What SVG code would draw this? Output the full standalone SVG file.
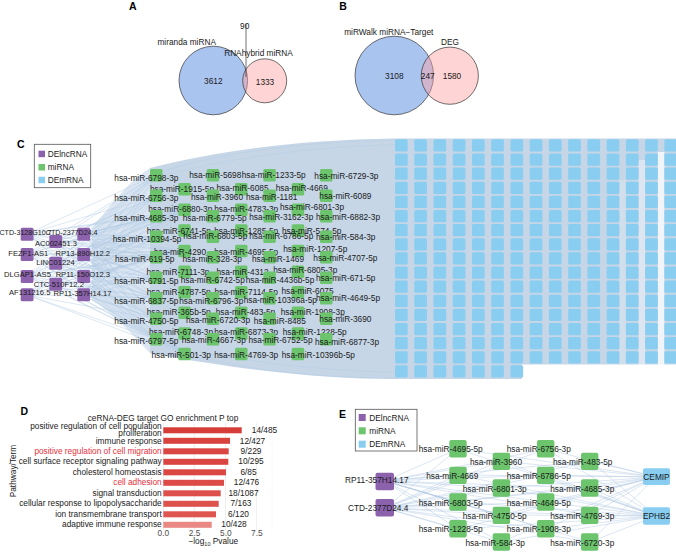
<svg xmlns="http://www.w3.org/2000/svg" xmlns:xlink="http://www.w3.org/1999/xlink" width="676" height="552" viewBox="0 0 676 552">
<style>
text{font-family:"Liberation Sans",Arial,Helvetica,sans-serif;font-size:8.3px;fill:#1a1a1a}
.lt{font-weight:bold;font-size:10.5px;fill:#000}
.ln{font-size:7.6px}
.ls{font-size:7.1px}
.m{text-anchor:middle}
.e{text-anchor:end}
.g{fill:#6cc46c}
.p{fill:#8c62ad}
.b{fill:#89cdf1}
.ed{fill:none;stroke:#b4cbe4;stroke-width:0.45}
.ee{fill:none;stroke:#a9c3e0;stroke-width:0.5;opacity:0.85}
.cb{fill:#aac4f0;stroke:#333;stroke-width:0.7}
.cp{fill:#ff9f9f;fill-opacity:0.45;stroke:#333;stroke-width:0.7}
.leg{fill:#fff;stroke:#555;stroke-width:0.8}
.gm{stroke:#e3e3e3;stroke-width:0.6}
.gn{stroke:#f0f0f0;stroke-width:0.35}
.red{fill:#e6303a}
.tk{fill:#4d4d4d}
</style>
<defs>
<g id="mrow">
<rect class="b" x="395" y="0" width="12.7" height="12.3" rx="1.5"/>
<rect class="b" x="414.24" y="0" width="12.7" height="12.3" rx="1.5"/>
<rect class="b" x="433.48" y="0" width="12.7" height="12.3" rx="1.5"/>
<rect class="b" x="452.72" y="0" width="12.7" height="12.3" rx="1.5"/>
<rect class="b" x="471.96" y="0" width="12.7" height="12.3" rx="1.5"/>
<rect class="b" x="491.2" y="0" width="12.7" height="12.3" rx="1.5"/>
<rect class="b" x="510.44" y="0" width="12.7" height="12.3" rx="1.5"/>
<rect class="b" x="529.68" y="0" width="12.7" height="12.3" rx="1.5"/>
<rect class="b" x="548.92" y="0" width="12.7" height="12.3" rx="1.5"/>
<rect class="b" x="568.16" y="0" width="12.7" height="12.3" rx="1.5"/>
<rect class="b" x="587.4" y="0" width="12.7" height="12.3" rx="1.5"/>
<rect class="b" x="606.64" y="0" width="12.7" height="12.3" rx="1.5"/>
<rect class="b" x="625.88" y="0" width="12.7" height="12.3" rx="1.5"/>
<rect class="b" x="645.12" y="0" width="12.7" height="12.3" rx="1.5"/>
<rect class="b" x="664.36" y="0" width="12.7" height="12.3" rx="1.5"/>
</g>
</defs>
<rect width="676" height="552" fill="#fff"/>

<!-- Panel A -->
<g id="panelA">
<text class="lt" x="129" y="9.5">A</text>
<circle class="cb" cx="213.3" cy="80.5" r="34.3"/>
<circle class="cp" cx="264.7" cy="80.8" r="22"/>
<line x1="246" y1="24" x2="246" y2="77" stroke="#333" stroke-width="0.7"/>
<text class="m" x="186.7" y="44.6">miranda miRNA</text>
<text class="m" x="258.5" y="56.2">RNAhybrid miRNA</text>
<text class="m" x="244.7" y="28.6">90</text>
<text class="m" x="213.3" y="84">3612</text>
<text class="m" x="265" y="84.7">1333</text>
</g>

<!-- Panel B -->
<g id="panelB">
<text class="lt" x="339.3" y="9.5">B</text>
<circle class="cb" cx="394.3" cy="75.5" r="39.3"/>
<circle class="cp" cx="449.8" cy="75.7" r="28.6"/>
<text class="m" x="388.8" y="34.6">miRWalk miRNA−Target</text>
<text class="m" x="450" y="44.6">DEG</text>
<text class="m" x="394.3" y="79">3108</text>
<text class="m" x="427.7" y="79">247</text>
<text class="m" x="452" y="79">1580</text>
</g>

<!-- Panel C -->
<text class="lt" x="17" y="148.3">C</text>
<g id="c-edges">
<path d="M150,168 C220,150 300,140 393,138.5 L676,138.5 L676,364.5 L522,364.5 L522,379 L393,379 C330,379 250,372 150,353 Z" fill="#c6d6e7"/>
<path d="M92,228 C115,200 130,180 150,168 L150,353 C130,332 112,312 92,300 Z" fill="#dbe6f2"/>
<rect x="657.9" y="152" width="6.4" height="213" fill="#fff" opacity="0.75"/>
<rect x="638.6" y="160" width="6.5" height="205" fill="#fff" opacity="0.4"/>
<rect x="619.4" y="180" width="6.4" height="185" fill="#fff" opacity="0.2"/>
<path class="ed" d="M27 234L156 175M27 234L156 196M27 234L156 216M27 234L184 210M27 234L156 237M27 234L156 257M27 234L184 251M27 234L156 278M27 234L156 298M27 234L156 319M27 234L156 339M27 234L184 354"/>
<path class="ed" d="M27 254L156 175M27 254L156 196M27 254L156 216M27 254L184 210M27 254L156 237M27 254L156 257M27 254L184 251M27 254L156 278M27 254L156 298M27 254L156 319M27 254L156 339M27 254L184 354"/>
<path class="ed" d="M27 276L156 175M27 276L156 196M27 276L156 216M27 276L184 210M27 276L156 237M27 276L156 257M27 276L184 251M27 276L156 278M27 276L156 298M27 276L156 319M27 276L156 339M27 276L184 354"/>
<path class="ed" d="M27 295L156 175M27 295L156 196M27 295L156 216M27 295L184 210M27 295L156 237M27 295L156 257M27 295L184 251M27 295L156 278M27 295L156 298M27 295L156 319M27 295L156 339M27 295L184 354"/>
<path class="ed" d="M55 241L156 175M55 241L156 196M55 241L156 216M55 241L184 210M55 241L156 237M55 241L156 257M55 241L184 251M55 241L156 278M55 241L156 298M55 241L156 319M55 241L156 339M55 241L184 354"/>
<path class="ed" d="M55 263L156 175M55 263L156 196M55 263L156 216M55 263L184 210M55 263L156 237M55 263L156 257M55 263L184 251M55 263L156 278M55 263L156 298M55 263L156 319M55 263L156 339M55 263L184 354"/>
<path class="ed" d="M55 284L156 175M55 284L156 196M55 284L156 216M55 284L184 210M55 284L156 237M55 284L156 257M55 284L184 251M55 284L156 278M55 284L156 298M55 284L156 319M55 284L156 339M55 284L184 354"/>
<path class="ed" d="M84 234L156 175M84 234L156 196M84 234L156 216M84 234L184 210M84 234L156 237M84 234L156 257M84 234L184 251M84 234L156 278M84 234L156 298M84 234L156 319M84 234L156 339M84 234L184 354"/>
<path class="ed" d="M84 254L156 175M84 254L156 196M84 254L156 216M84 254L184 210M84 254L156 237M84 254L156 257M84 254L184 251M84 254L156 278M84 254L156 298M84 254L156 319M84 254L156 339M84 254L184 354"/>
<path class="ed" d="M84 276L156 175M84 276L156 196M84 276L156 216M84 276L184 210M84 276L156 237M84 276L156 257M84 276L184 251M84 276L156 278M84 276L156 298M84 276L156 319M84 276L156 339M84 276L184 354"/>
<path class="ed" d="M84 295L156 175M84 295L156 196M84 295L156 216M84 295L184 210M84 295L156 237M84 295L156 257M84 295L184 251M84 295L156 278M84 295L156 298M84 295L156 319M84 295L156 339M84 295L184 354"/>
<path class="ed" d="M160 172C230 150 310 142 395 140M160 176C240 156 320 146 395 145M190 356C260 372 330 378 395 378M200 352C270 365 340 372 400 372"/>
</g>

<g id="c-legend">
<rect class="leg" x="34.3" y="144.3" width="56.4" height="43.4"/>
<rect class="p" x="38.5" y="150.7" width="6.5" height="6.5"/>
<text x="47.7" y="157">DElncRNA</text>
<rect class="g" x="38.5" y="164" width="6.5" height="6.5"/>
<text x="47.7" y="170.2">miRNA</text>
<rect class="b" x="38.5" y="176.7" width="6.5" height="6.5"/>
<text x="47.7" y="182.9">DEmRNA</text>
</g>

<g id="c-mrna-grid">
<use xlink:href="#mrow" y="139.3"/>
<use xlink:href="#mrow" y="153.43"/>
<use xlink:href="#mrow" y="167.55"/>
<use xlink:href="#mrow" y="181.68"/>
<use xlink:href="#mrow" y="195.8"/>
<use xlink:href="#mrow" y="209.93"/>
<use xlink:href="#mrow" y="224.05"/>
<use xlink:href="#mrow" y="238.18"/>
<use xlink:href="#mrow" y="252.3"/>
<use xlink:href="#mrow" y="266.43"/>
<use xlink:href="#mrow" y="280.55"/>
<use xlink:href="#mrow" y="294.68"/>
<use xlink:href="#mrow" y="308.8"/>
<use xlink:href="#mrow" y="322.93"/>
<use xlink:href="#mrow" y="337.05"/>
<use xlink:href="#mrow" y="351.18"/>
<rect class="b" x="395" y="365.3" width="12.7" height="12.3" rx="1.5"/>
<rect class="b" x="414.24" y="365.3" width="12.7" height="12.3" rx="1.5"/>
<rect class="b" x="433.48" y="365.3" width="12.7" height="12.3" rx="1.5"/>
<rect class="b" x="452.72" y="365.3" width="12.7" height="12.3" rx="1.5"/>
<rect class="b" x="471.96" y="365.3" width="12.7" height="12.3" rx="1.5"/>
<rect class="b" x="491.2" y="365.3" width="12.7" height="12.3" rx="1.5"/>
<rect class="b" x="510.44" y="365.3" width="12.7" height="12.3" rx="1.5"/>
</g>

<g id="c-lncrna">
<g id="l-CTD-3128G10.7"><rect class="p" x="20.7" y="227.7" width="12.8" height="13" rx="1.5"/><text class="ls" x="-0.5" y="235">CTD-3128G10.7</text></g>
<g id="l-CTD-2377D24.4"><rect class="p" x="77.3" y="227.7" width="12.8" height="13" rx="1.5"/><text class="ls e" x="97.5" y="235">CTD-2377D24.4</text></g>
<g id="l-AC002451.3"><rect class="p" x="49.3" y="235" width="12.8" height="13" rx="1.5"/><text class="ln m" x="56" y="246">AC002451.3</text></g>
<g id="l-FEZF1-AS1"><rect class="p" x="20.7" y="248" width="12.8" height="13" rx="1.5"/><text class="ln m" x="28.3" y="256">FEZF1-AS1</text></g>
<g id="l-RP13-890H12.2"><rect class="p" x="77.3" y="248" width="12.8" height="13" rx="1.5"/><text class="ln m" x="82.8" y="256">RP13-890H12.2</text></g>
<g id="l-LINC01224"><rect class="p" x="49.3" y="256.7" width="12.8" height="13" rx="1.5"/><text class="ln m" x="55.5" y="265.4">LINC01224</text></g>
<g id="l-DLGAP1-AS5"><rect class="p" x="20.7" y="270" width="12.8" height="13" rx="1.5"/><text class="ln m" x="27.5" y="276.7">DLGAP1-AS5</text></g>
<g id="l-RP11-150O12.3"><rect class="p" x="77.3" y="270" width="12.8" height="13" rx="1.5"/><text class="ln m" x="82.8" y="276.7">RP11-150O12.3</text></g>
<g id="l-CTC-510F12.2"><rect class="p" x="49.3" y="277.7" width="12.8" height="13" rx="1.5"/><text class="ln m" x="58.8" y="286.7">CTC-510F12.2</text></g>
<g id="l-AF131216.5"><rect class="p" x="20.7" y="288.3" width="12.8" height="13" rx="1.5"/><text class="ln m" x="29.7" y="295.4">AF131216.5</text></g>
<g id="l-RP11-357H14.17"><rect class="p" x="77.3" y="288.3" width="12.8" height="13" rx="1.5"/><text class="ln m" x="82.5" y="296">RP11-357H14.17</text></g>
</g>

<g id="c-mirna">
<g id="c-6798-3p"><rect class="g" x="150" y="169" width="12.5" height="12.5" rx="1.5"/><text x="114.3" y="181">hsa-miR-6798-3p</text></g>
<g id="c-5698"><rect class="g" x="206.7" y="169" width="12.5" height="12.5" rx="1.5"/><text class="m" x="215.3" y="178">hsa-miR-5698</text></g>
<g id="c-1233-5p"><rect class="g" x="263.3" y="169" width="12.5" height="12.5" rx="1.5"/><text class="m" x="273.7" y="178">hsa-miR-1233-5p</text></g>
<g id="c-6729-3p"><rect class="g" x="320" y="169" width="12.5" height="12.5" rx="1.5"/><text x="314.3" y="178.7">hsa-miR-6729-3p</text></g>
<g id="c-1915-5p"><rect class="g" x="178.3" y="183" width="12.5" height="12.5" rx="1.5"/><text class="m" x="182" y="192">hsa-miR-1915-5p</text></g>
<g id="c-6085"><rect class="g" x="235" y="183" width="12.5" height="12.5" rx="1.5"/><text class="m" x="242.5" y="191.3">hsa-miR-6085</text></g>
<g id="c-4669"><rect class="g" x="291.7" y="183" width="12.5" height="12.5" rx="1.5"/><text class="m" x="301.7" y="191.3">hsa-miR-4669</text></g>
<g id="c-6756-3p"><rect class="g" x="150" y="189.5" width="12.5" height="12.5" rx="1.5"/><text x="114.3" y="200.7">hsa-miR-6756-3p</text></g>
<g id="c-3960"><rect class="g" x="206.7" y="189.5" width="12.5" height="12.5" rx="1.5"/><text class="m" x="217" y="199.7">hsa-miR-3960</text></g>
<g id="c-1181"><rect class="g" x="263.3" y="189.5" width="12.5" height="12.5" rx="1.5"/><text class="m" x="271.7" y="199.7">hsa-miR-1181</text></g>
<g id="c-6089"><rect class="g" x="320" y="189.5" width="12.5" height="12.5" rx="1.5"/><text x="319.3" y="199">hsa-miR-6089</text></g>
<g id="c-6880-3p"><rect class="g" x="178.3" y="203.6" width="12.5" height="12.5" rx="1.5"/><text class="m" x="180.3" y="212.3">hsa-miR-6880-3p</text></g>
<g id="c-4783-3p"><rect class="g" x="235" y="203.6" width="12.5" height="12.5" rx="1.5"/><text class="m" x="246.2" y="212.3">hsa-miR-4783-3p</text></g>
<g id="c-6801-3p"><rect class="g" x="291.7" y="203.6" width="12.5" height="12.5" rx="1.5"/><text class="m" x="312" y="209.7">hsa-miR-6801-3p</text></g>
<g id="c-4685-3p"><rect class="g" x="150" y="210" width="12.5" height="12.5" rx="1.5"/><text x="114.3" y="221">hsa-miR-4685-3p</text></g>
<g id="c-6779-5p"><rect class="g" x="206.7" y="210" width="12.5" height="12.5" rx="1.5"/><text class="m" x="214.7" y="220.7">hsa-miR-6779-5p</text></g>
<g id="c-3162-3p"><rect class="g" x="263.3" y="210" width="12.5" height="12.5" rx="1.5"/><text class="m" x="281.3" y="219.7">hsa-miR-3162-3p</text></g>
<g id="c-6882-3p"><rect class="g" x="320" y="210" width="12.5" height="12.5" rx="1.5"/><text x="316" y="219.7">hsa-miR-6882-3p</text></g>
<g id="c-6741-5p"><rect class="g" x="178.3" y="224.2" width="12.5" height="12.5" rx="1.5"/><text class="m" x="178.9" y="234">hsa-miR-6741-5p</text></g>
<g id="c-1285-5p"><rect class="g" x="235" y="224.2" width="12.5" height="12.5" rx="1.5"/><text class="m" x="246.2" y="234">hsa-miR-1285-5p</text></g>
<g id="c-574-5p"><rect class="g" x="291.7" y="224.2" width="12.5" height="12.5" rx="1.5"/><text class="m" x="311.7" y="234">hsa-miR-574-5p</text></g>
<g id="c-10394-5p"><rect class="g" x="150" y="230.5" width="12.5" height="12.5" rx="1.5"/><text x="112.7" y="242">hsa-miR-10394-5p</text></g>
<g id="c-6803-5p"><rect class="g" x="206.7" y="230.5" width="12.5" height="12.5" rx="1.5"/><text class="m" x="215.3" y="239">hsa-miR-6803-5p</text></g>
<g id="c-6786-5p"><rect class="g" x="263.3" y="230.5" width="12.5" height="12.5" rx="1.5"/><text class="m" x="281.3" y="239">hsa-miR-6786-5p</text></g>
<g id="c-584-3p"><rect class="g" x="320" y="230.5" width="12.5" height="12.5" rx="1.5"/><text x="316" y="239.7">hsa-miR-584-3p</text></g>
<g id="c-4290"><rect class="g" x="178.3" y="244.8" width="12.5" height="12.5" rx="1.5"/><text class="m" x="180" y="254.7">hsa-miR-4290</text></g>
<g id="c-4695-5p"><rect class="g" x="235" y="244.8" width="12.5" height="12.5" rx="1.5"/><text class="m" x="246.2" y="254.7">hsa-miR-4695-5p</text></g>
<g id="c-1207-5p"><rect class="g" x="291.7" y="244.8" width="12.5" height="12.5" rx="1.5"/><text class="m" x="315.3" y="252.3">hsa-miR-1207-5p</text></g>
<g id="c-619-5p"><rect class="g" x="150" y="251" width="12.5" height="12.5" rx="1.5"/><text x="115" y="262.3">hsa-miR-619-5p</text></g>
<g id="c-328-3p"><rect class="g" x="206.7" y="251" width="12.5" height="12.5" rx="1.5"/><text class="m" x="212.2" y="262.3">hsa-miR-328-3p</text></g>
<g id="c-1469"><rect class="g" x="263.3" y="251" width="12.5" height="12.5" rx="1.5"/><text class="m" x="278" y="262.3">hsa-miR-1469</text></g>
<g id="c-4707-5p"><rect class="g" x="320" y="251" width="12.5" height="12.5" rx="1.5"/><text x="313.3" y="260.7">hsa-miR-4707-5p</text></g>
<g id="c-7111-3p"><rect class="g" x="178.3" y="265.4" width="12.5" height="12.5" rx="1.5"/><text class="m" x="178" y="274.7">hsa-miR-7111-3p</text></g>
<g id="c-4312"><rect class="g" x="235" y="265.4" width="12.5" height="12.5" rx="1.5"/><text class="m" x="242.5" y="274.7">hsa-miR-4312</text></g>
<g id="c-6805-3p"><rect class="g" x="291.7" y="265.4" width="12.5" height="12.5" rx="1.5"/><text class="m" x="305.3" y="273">hsa-miR-6805-3p</text></g>
<g id="c-6791-5p"><rect class="g" x="150" y="271.5" width="12.5" height="12.5" rx="1.5"/><text x="114.3" y="283.7">hsa-miR-6791-5p</text></g>
<g id="c-6742-5p"><rect class="g" x="206.7" y="271.5" width="12.5" height="12.5" rx="1.5"/><text class="m" x="212.8" y="283">hsa-miR-6742-5p</text></g>
<g id="c-4436b-5p"><rect class="g" x="263.3" y="271.5" width="12.5" height="12.5" rx="1.5"/><text class="m" x="280" y="283">hsa-miR-4436b-5p</text></g>
<g id="c-671-5p"><rect class="g" x="320" y="271.5" width="12.5" height="12.5" rx="1.5"/><text x="316" y="281.3">hsa-miR-671-5p</text></g>
<g id="c-4787-5p"><rect class="g" x="178.3" y="286" width="12.5" height="12.5" rx="1.5"/><text class="m" x="178.7" y="294.7">hsa-miR-4787-5p</text></g>
<g id="c-7114-5p"><rect class="g" x="235" y="286" width="12.5" height="12.5" rx="1.5"/><text class="m" x="246.2" y="294.7">hsa-miR-7114-5p</text></g>
<g id="c-6075"><rect class="g" x="291.7" y="286" width="12.5" height="12.5" rx="1.5"/><text class="m" x="307.5" y="294">hsa-miR-6075</text></g>
<g id="c-6837-5p"><rect class="g" x="150" y="292" width="12.5" height="12.5" rx="1.5"/><text x="114.3" y="304">hsa-miR-6837-5p</text></g>
<g id="c-6796-3p"><rect class="g" x="206.7" y="292" width="12.5" height="12.5" rx="1.5"/><text class="m" x="211.3" y="304">hsa-miR-6796-3p</text></g>
<g id="c-10396a-5p"><rect class="g" x="263.3" y="292" width="12.5" height="12.5" rx="1.5"/><text class="m" x="280.3" y="303">hsa-miR-10396a-5p</text></g>
<g id="c-4649-5p"><rect class="g" x="320" y="292" width="12.5" height="12.5" rx="1.5"/><text x="316" y="301.3">hsa-miR-4649-5p</text></g>
<g id="c-365b-5p"><rect class="g" x="178.3" y="306.6" width="12.5" height="12.5" rx="1.5"/><text class="m" x="178.7" y="314.7">hsa-miR-365b-5p</text></g>
<g id="c-483-5p"><rect class="g" x="235" y="306.6" width="12.5" height="12.5" rx="1.5"/><text class="m" x="245.5" y="314.7">hsa-miR-483-5p</text></g>
<g id="c-1908-3p"><rect class="g" x="291.7" y="306.6" width="12.5" height="12.5" rx="1.5"/><text class="m" x="312.8" y="314.7">hsa-miR-1908-3p</text></g>
<g id="c-4750-5p"><rect class="g" x="150" y="312.5" width="12.5" height="12.5" rx="1.5"/><text x="114.3" y="324">hsa-miR-4750-5p</text></g>
<g id="c-6720-3p"><rect class="g" x="206.7" y="312.5" width="12.5" height="12.5" rx="1.5"/><text class="m" x="218" y="323">hsa-miR-6720-3p</text></g>
<g id="c-8485"><rect class="g" x="263.3" y="312.5" width="12.5" height="12.5" rx="1.5"/><text class="m" x="279.8" y="323.7">hsa-miR-8485</text></g>
<g id="c-3690"><rect class="g" x="320" y="312.5" width="12.5" height="12.5" rx="1.5"/><text x="319.3" y="322">hsa-miR-3690</text></g>
<g id="c-6748-3p"><rect class="g" x="178.3" y="327.2" width="12.5" height="12.5" rx="1.5"/><text class="m" x="181" y="334.7">hsa-miR-6748-3p</text></g>
<g id="c-6873-3p"><rect class="g" x="235" y="327.2" width="12.5" height="12.5" rx="1.5"/><text class="m" x="246.2" y="334.7">hsa-miR-6873-3p</text></g>
<g id="c-1228-5p"><rect class="g" x="291.7" y="327.2" width="12.5" height="12.5" rx="1.5"/><text class="m" x="314.7" y="334.7">hsa-miR-1228-5p</text></g>
<g id="c-6797-5p"><rect class="g" x="150" y="333" width="12.5" height="12.5" rx="1.5"/><text x="114.3" y="343.5">hsa-miR-6797-5p</text></g>
<g id="c-4667-3p"><rect class="g" x="206.7" y="333" width="12.5" height="12.5" rx="1.5"/><text class="m" x="213.8" y="343">hsa-miR-4667-3p</text></g>
<g id="c-6752-5p"><rect class="g" x="263.3" y="333" width="12.5" height="12.5" rx="1.5"/><text class="m" x="280.5" y="343">hsa-miR-6752-5p</text></g>
<g id="c-6877-3p"><rect class="g" x="320" y="333" width="12.5" height="12.5" rx="1.5"/><text x="315" y="344.7">hsa-miR-6877-3p</text></g>
<g id="c-501-3p"><rect class="g" x="178.3" y="347.8" width="12.5" height="12.5" rx="1.5"/><text class="m" x="181.2" y="358">hsa-miR-501-3p</text></g>
<g id="c-4769-3p"><rect class="g" x="235" y="347.8" width="12.5" height="12.5" rx="1.5"/><text class="m" x="246.2" y="358">hsa-miR-4769-3p</text></g>
<g id="c-10396b-5p"><rect class="g" x="291.7" y="347.8" width="12.5" height="12.5" rx="1.5"/><text class="m" x="318.3" y="358">hsa-miR-10396b-5p</text></g>
</g>

<!-- Panel D -->
<g id="panelD">
<text class="lt" x="20.5" y="415">D</text>
<text class="m" x="163" y="421.3">ceRNA-DEG target GO enrichment P top</text>
<g id="d-grid">
<line class="gn" x1="178.9" y1="423" x2="178.9" y2="530"/>
<line class="gn" x1="210" y1="423" x2="210" y2="530"/>
<line class="gn" x1="241.1" y1="423" x2="241.1" y2="530"/>
<line class="gn" x1="272.2" y1="423" x2="272.2" y2="530"/>
<line class="gm" x1="163.3" y1="423" x2="163.3" y2="530"/>
<line class="gm" x1="194.4" y1="423" x2="194.4" y2="530"/>
<line class="gm" x1="225.5" y1="423" x2="225.5" y2="530"/>
<line class="gm" x1="256.6" y1="423" x2="256.6" y2="530"/>
</g>
<g id="d-bars">
<rect x="163.3" y="427.3" width="78.4" height="6" fill="#d63d38"/>
<rect x="163.3" y="437.8" width="66.7" height="6" fill="#d9433e"/>
<rect x="163.3" y="448.3" width="65.4" height="6" fill="#da4641"/>
<rect x="163.3" y="458.8" width="65" height="6" fill="#da4641"/>
<rect x="163.3" y="469.3" width="62.7" height="6" fill="#db4843"/>
<rect x="163.3" y="479.8" width="60.7" height="6" fill="#dc4b46"/>
<rect x="163.3" y="490.3" width="57.4" height="6" fill="#dd4f4a"/>
<rect x="163.3" y="500.8" width="55.4" height="6" fill="#de524d"/>
<rect x="163.3" y="511.3" width="52.7" height="6" fill="#df5550"/>
<rect x="163.3" y="521.8" width="48.4" height="6" fill="#ea8984"/>
</g>
<g id="d-terms">
<text class="e" x="161.7" y="429.2">positive regulation of cell population</text>
<text class="e" x="161.7" y="435.6">proliferation</text>
<text class="e" x="161.7" y="443.7">immune response</text>
<text class="e red" x="161.7" y="454.1">positive regulation of cell migration</text>
<text class="e" x="161.7" y="464.4">cell surface receptor signaling pathway</text>
<text class="e" x="161.7" y="474.8">cholesterol homeostasis</text>
<text class="e red" x="161.7" y="485.3">cell adhesion</text>
<text class="e" x="161.7" y="495.8">signal transduction</text>
<text class="e" x="161.7" y="506.3">cellular response to lipopolysaccharide</text>
<text class="e" x="161.7" y="516.9">ion transmembrane transport</text>
<text class="e" x="161.7" y="527.4">adaptive immune response</text>
</g>
<g id="d-values">
<text class="m" x="264.5" y="433.1">14/485</text>
<text class="m" x="252.5" y="443.7">12/427</text>
<text class="m" x="251" y="454">9/229</text>
<text class="m" x="251" y="464.3">10/295</text>
<text class="m" x="248.5" y="474.7">6/85</text>
<text class="m" x="246.5" y="485.3">12/476</text>
<text class="m" x="243.5" y="495.7">18/1087</text>
<text class="m" x="241" y="506.3">7/163</text>
<text class="m" x="238.5" y="517">6/120</text>
<text class="m" x="234" y="527.3">10/428</text>
</g>
<g id="d-axis">
<text class="m tk" x="163.3" y="536.4">0.0</text>
<text class="m tk" x="194.6" y="536.4">2.5</text>
<text class="m tk" x="225.8" y="536.4">5.0</text>
<text class="m tk" x="256.8" y="536.4">7.5</text>
<text class="m" x="213.3" y="544.2">−log<tspan font-size="5.5" dy="1.6">10</tspan><tspan dy="-1.6"> Pvalue</tspan></text>
<text class="m" transform="translate(16.3,471) rotate(-90)">Pathway/Term</text>
</g>
</g>

<!-- Panel E -->
<text class="lt" x="339" y="418.3">E</text>
<g id="e-edges">
<path class="ee" d="M385 481L458 449M385 481L458 475M385 481L458 502M385 481L458 529M385 481L501 461M385 481L501 488M385 481L501 515M385 481L501 542M385 481L546 449M385 481L546 475M385 481L546 502M385 481L546 529M385 481L590 461M385 481L590 488M385 481L590 515M385 481L590 542"/>
<path class="ee" d="M385 508L458 449M385 508L458 475M385 508L458 502M385 508L458 529M385 508L501 461M385 508L501 488M385 508L501 515M385 508L501 542M385 508L546 449M385 508L546 475M385 508L546 502M385 508L546 529M385 508L590 461M385 508L590 488M385 508L590 515M385 508L590 542"/>
<path class="ee" d="M656 477L458 449M656 477L458 475M656 477L458 502M656 477L458 529M656 477L501 461M656 477L501 488M656 477L501 515M656 477L501 542M656 477L546 449M656 477L546 475M656 477L546 502M656 477L546 529M656 477L590 461M656 477L590 488M656 477L590 515M656 477L590 542"/>
<path class="ee" d="M656 516L458 449M656 516L458 475M656 516L458 502M656 516L458 529M656 516L501 461M656 516L501 488M656 516L501 515M656 516L501 542M656 516L546 449M656 516L546 475M656 516L546 502M656 516L546 529M656 516L590 461M656 516L590 488M656 516L590 515M656 516L590 542"/>
</g>
<g id="e-legend">
<rect class="leg" x="355.3" y="409.3" width="61.7" height="41.7"/>
<rect class="p" x="358.7" y="414" width="7" height="7"/>
<text x="369.3" y="420.6">DElncRNA</text>
<rect class="g" x="358.7" y="427.3" width="7" height="7"/>
<text x="369.3" y="433.9">miRNA</text>
<rect class="b" x="358.7" y="440.7" width="7" height="7"/>
<text x="369.3" y="446.9">DEmRNA</text>
</g>
<g id="e-nodes">
<g id="e-RP11-357H14.17"><rect class="p" x="375.5" y="472.7" width="18.5" height="17.5" rx="2"/><text class="m" x="376.8" y="483">RP11-357H14.17</text></g>
<g id="e-CTD-2377D24.4"><rect class="p" x="375.5" y="499" width="18.5" height="17.5" rx="2"/><text class="m" x="378.2" y="510.7">CTD-2377D24.4</text></g>
<g id="e-4695-5p"><rect class="g" x="449.3" y="440" width="17.4" height="17.4" rx="2"/><text class="m" x="450.7" y="452.3">hsa-miR-4695-5p</text></g>
<g id="e-6756-3p"><rect class="g" x="537" y="440" width="17.4" height="17.4" rx="2"/><text class="m" x="538.8" y="452.3">hsa-miR-6756-3p</text></g>
<g id="e-3960"><rect class="g" x="492.7" y="452.7" width="17.4" height="17.4" rx="2"/><text class="m" x="496" y="464.7">hsa-miR-3960</text></g>
<g id="e-483-5p"><rect class="g" x="581" y="452.7" width="17.4" height="17.4" rx="2"/><text class="m" x="582.7" y="464.7">hsa-miR-483-5p</text></g>
<g id="e-4669"><rect class="g" x="449.3" y="466.7" width="17.4" height="17.4" rx="2"/><text class="m" x="452.3" y="479">hsa-miR-4669</text></g>
<g id="e-6786-5p"><rect class="g" x="537" y="466.7" width="17.4" height="17.4" rx="2"/><text class="m" x="538.8" y="479">hsa-miR-6786-5p</text></g>
<g id="e-6801-3p"><rect class="g" x="492.7" y="479.3" width="17.4" height="17.4" rx="2"/><text class="m" x="494.7" y="492">hsa-miR-6801-3p</text></g>
<g id="e-4685-3p"><rect class="g" x="581" y="479.3" width="17.4" height="17.4" rx="2"/><text class="m" x="582.3" y="492">hsa-miR-4685-3p</text></g>
<g id="e-6803-5p"><rect class="g" x="449.3" y="493.3" width="17.4" height="17.4" rx="2"/><text class="m" x="450.7" y="505.7">hsa-miR-6803-5p</text></g>
<g id="e-4649-5p"><rect class="g" x="537" y="493.3" width="17.4" height="17.4" rx="2"/><text class="m" x="538.8" y="505.7">hsa-miR-4649-5p</text></g>
<g id="e-4750-5p"><rect class="g" x="492.7" y="506.7" width="17.4" height="17.4" rx="2"/><text class="m" x="494.7" y="518.7">hsa-miR-4750-5p</text></g>
<g id="e-4769-3p"><rect class="g" x="581" y="506.7" width="17.4" height="17.4" rx="2"/><text class="m" x="582.3" y="518.7">hsa-miR-4769-3p</text></g>
<g id="e-1228-5p"><rect class="g" x="449.3" y="520" width="17.4" height="17.4" rx="2"/><text class="m" x="450.7" y="532.3">hsa-miR-1228-5p</text></g>
<g id="e-1908-3p"><rect class="g" x="537" y="520" width="17.4" height="17.4" rx="2"/><text class="m" x="538.8" y="532.3">hsa-miR-1908-3p</text></g>
<g id="e-584-3p"><rect class="g" x="492.7" y="533.3" width="17.4" height="17.4" rx="2"/><text class="m" x="495.2" y="546.3">hsa-miR-584-3p</text></g>
<g id="e-6720-3p"><rect class="g" x="581" y="533.3" width="17.4" height="17.4" rx="2"/><text class="m" x="582.3" y="546.3">hsa-miR-6720-3p</text></g>
<g id="e-CEMIP"><rect class="b" x="643" y="468.3" width="27" height="16.8" rx="2"/><text class="m" x="656.5" y="479.7">CEMIP</text></g>
<g id="e-EPHB2"><rect class="b" x="643" y="507.3" width="27" height="17.5" rx="2"/><text class="m" x="656.5" y="518.7">EPHB2</text></g>
</g>
</svg>
